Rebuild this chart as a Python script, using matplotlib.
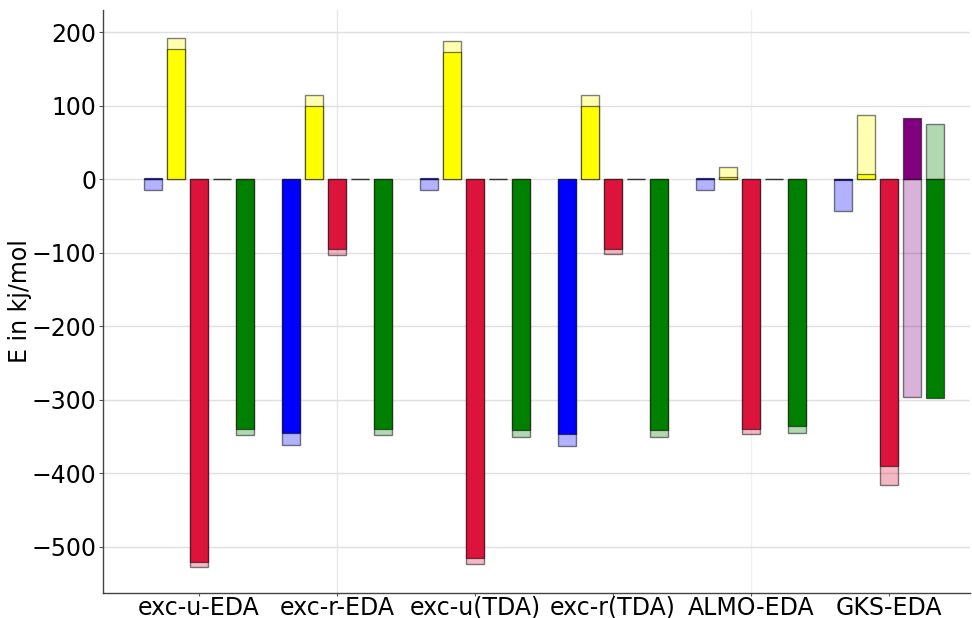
import matplotlib
matplotlib.use("Agg")
import matplotlib.pyplot as plt
from matplotlib.colors import to_rgba
import numpy as np

methods = ["exc-u-EDA", "exc-r-EDA", "exc-u(TDA)", "exc-r(TDA)", "ALMO-EDA", "GKS-EDA"]
colors = ["blue", "yellow", "crimson", "purple", "green"]

# solid bars (one list per energy term)
term1 = [2, -345, 2, -347, 1.5, -0.7]
term2 = [178, 100, 173, 100, 3.4, 8]
term3 = [-520, -95, -515, -95, -340, -390]
term4 = [0, 0, 0, 0, 0, 84]
term5 = [-339, -339, -341, -341, -335, -298]

# translucent bars for the second set of values
alt1 = [-15, -361, -15, -363, -15, -43]
alt2 = [193, 115, 188, 115, 17, 87]
alt3 = [-527, -103, -523, -102, -347, -416]
alt4 = [0, 0, 0, 0, 0, -296]
alt5 = [-348, -348, -350, -350, -345, 75]

solid = [term1, term2, term3, term4, term5]
light = [alt1, alt2, alt3, alt4, alt5]

fig = plt.figure(figsize=(9.72, 6.18), dpi=100)
ax = fig.add_axes([0.106, 0.0405, 0.892, 0.9435])

x = np.arange(len(methods))
step = 1 / 6
width = 0.135

for k, c in enumerate(colors):
    pos = x + (k - 2) * step
    ax.bar(pos, light[k], width, color=to_rgba(c, 0.3),
           edgecolor=(0, 0, 0, 0.5), linewidth=1.0, zorder=3)
    ax.bar(pos, solid[k], width, color=c,
           edgecolor=(0, 0, 0, 0.55), linewidth=0.9, zorder=4)

ax.set_xlim(-0.696, 5.587)
ax.set_ylim(-562.6, 230.6)
ax.set_yticks([200, 100, 0, -100, -200, -300, -400, -500])
ax.set_xticks(x)
ax.set_xticklabels(methods)
ax.tick_params(axis="y", labelsize=17, length=3, pad=2, color="#555555")
ax.tick_params(axis="x", labelsize=17, length=2, pad=0, color="#555555")
ax.set_ylabel("E in kj/mol", fontsize=17, labelpad=-1)

ax.yaxis.grid(True, color="#e0e0e0", linewidth=1.0, zorder=0)
ax.axvline(1, color="#e6e6e6", linewidth=1.0, zorder=0)
ax.axvline(4, color="#f0f0f0", linewidth=1.0, zorder=0)
ax.set_axisbelow(True)

for side in ("top", "right"):
    ax.spines[side].set_visible(False)
for side in ("left", "bottom"):
    ax.spines[side].set_color("#444444")
    ax.spines[side].set_linewidth(1.0)

fig.savefig("out.png", dpi=100)
